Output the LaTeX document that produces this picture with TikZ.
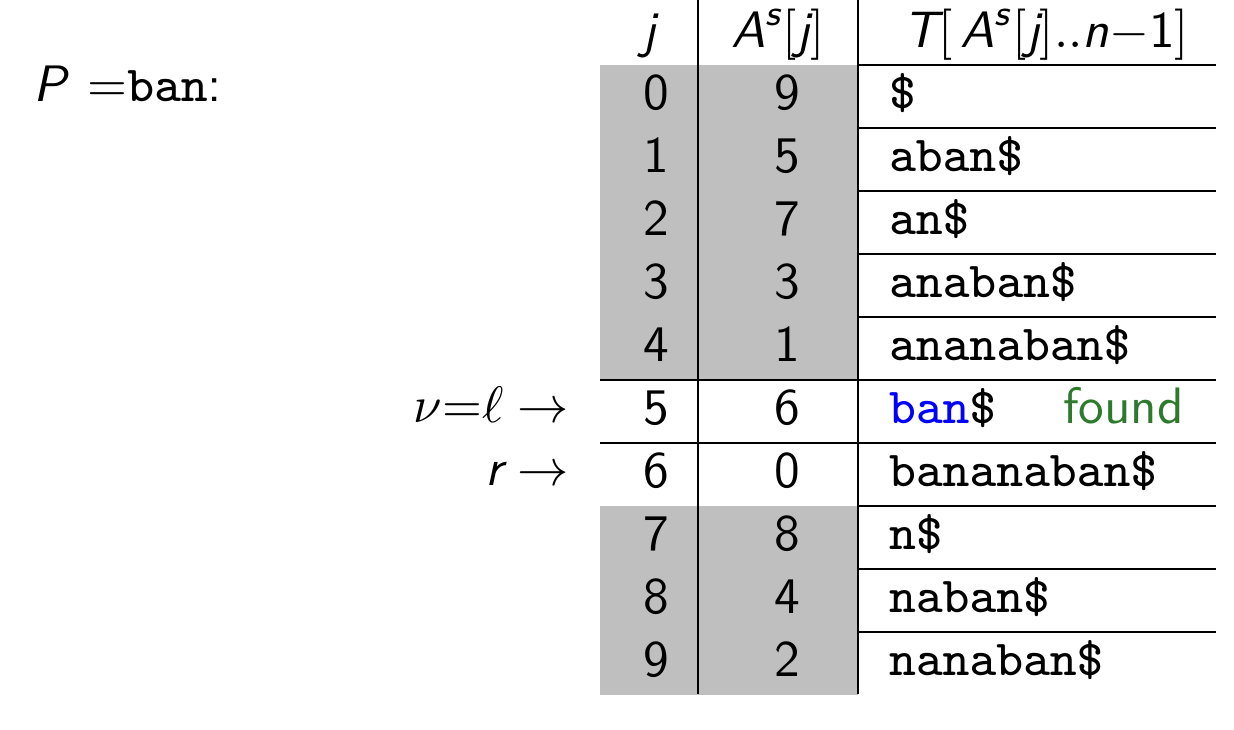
\RequirePackage{fix-cm}
\documentclass[tikz,border=0pt]{standalone}
\usepackage{amsmath, amssymb}
\usepackage{tikz}

\definecolor{foundgreen}{RGB}{46,122,44}
\newcommand{\mv}[1]{\textsf{\itshape #1}}
\font\ttheavy=cmtt8 at 10.1pt
\newcommand{\tx}[1]{{\ttheavy #1}}

\begin{document}
\begin{tikzpicture}[x=0.4pt,y=-0.4pt]
    \tikzset{every node/.style={inner sep=0pt, scale=2, font=\fontsize{10.25}{12}\selectfont},
      rule/.style={black, line width=0.7pt}}
    \useasboundingbox (0,0) rectangle (1234,730);
    % shaded blocks
    \fill [gray!50] (600,65) rectangle (858,380);
    \fill [gray!50] (600,506) rectangle (858,695);
    % rules
    \draw [rule] (698,0) -- (698,694);
    \draw [rule] (858,0) -- (858,694);
    \foreach \y in {65,128,...,632}
      \draw [rule] (858,\y) -- (1216,\y);
    \draw [rule] (600,380) -- (858,380);
    \draw [rule] (600,443) -- (858,443);
    % header
    \node (hj) [anchor=base] at (649,48) {$\mv{j}$};
    \node (ha) [anchor=base] at (778,48) {$\mv{A}^{\mv{s}}[\mv{j}]$};
    \node (ht) [anchor=base] at (1046,48) {$\mv{T}[\,\mv{A}^{\mv{s}}[\mv{j}]..\mv{n}{-}\textsf{1}]$};
    % rows
    \foreach \sa/\suf [count=\i from 0] in {9/\$, 5/aban\$, 7/an\$, 3/anaban\$, 1/ananaban\$,
        6/{\color{blue}ban}\$, 0/bananaban\$, 8/n\$, 4/naban\$, 2/nanaban\$} {
      \node (j\i) [anchor=base] at (656,65+63*\i+45) {\textsf{\i}};
      \node (a\i) [anchor=base] at (787,65+63*\i+45) {\textsf{\sa}};
      \node (t\i) [anchor=base west] at (888,65+63*\i+44) {\tx{\suf}};
    }
    \node (found) [anchor=base west] at (1062,424) {\textcolor{foundgreen}{\textsf{found}}};
    % pointers
    \node (nu) [anchor=base east] at (570,423) {$\nu{=}\ell\rightarrow$};
    \node (r) [anchor=base east] at (570,486) {$\mv{r}\rightarrow$};
    \node (pat) [anchor=base west] at (33,102) {\mv{P} $=$\tx{ban}\textsf{:}};
\end{tikzpicture}
\end{document}
